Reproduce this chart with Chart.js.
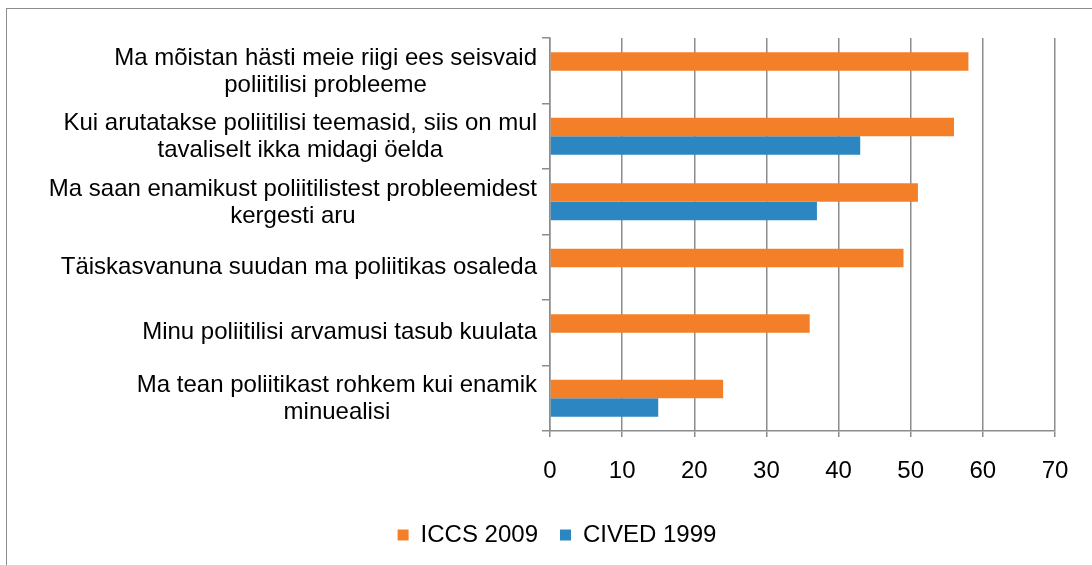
<!DOCTYPE html>
<html>
<head>
<meta charset="utf-8">
<script src="https://cdn.jsdelivr.net/npm/chart.js@4.4.1/dist/chart.umd.min.js"></script>
<style>
  html, body { margin: 0; padding: 0; background: #fff; overflow: hidden; width: 1092px; height: 565px; }
  #frame { position: absolute; left: 6px; top: 8px; width: 1100px; height: 565px; border: 1px solid #8c8c8c; background: #fff; }
  #c { display: block; }
</style>
</head>
<body>
<div id="frame"><canvas id="c" width="1100" height="565"></canvas></div>
<script>
const categories = [
  ["Ma mõistan hästi meie riigi ees seisvaid", "poliitilisi probleeme"],
  ["Kui arutatakse poliitilisi teemasid, siis on mul", "tavaliselt ikka midagi öelda"],
  ["Ma saan enamikust poliitilistest probleemidest", "kergesti aru"],
  ["Täiskasvanuna suudan ma poliitikas osaleda"],
  ["Minu poliitilisi arvamusi tasub kuulata"],
  ["Ma tean poliitikast rohkem kui enamik", "minuealisi"]
];
const iccs2009 = [58, 56, 51, 49, 36, 24];
const cived1999 = [null, 43, 37, null, null, 15];
const seriesNames = ["ICCS 2009", "CIVED 1999"];
const xTicks = [0, 10, 20, 30, 40, 50, 60, 70];

const FONT = "'Liberation Sans', Arial, sans-serif";
const FS = 24;
const GRID = '#8c8c8c';

// Draw wrapped y labels: lines centred on each other, block right-aligned to the axis
const yLabelPlugin = {
  id: 'yLabels',
  afterDraw(chart) {
    const ys = chart.scales.y;
    const ctx = chart.ctx;
    ctx.save();
    ctx.font = FS + 'px ' + FONT;
    ctx.fillStyle = '#000';
    ctx.textAlign = 'center';
    ctx.textBaseline = 'middle';
    const right = chart.chartArea.left - 13;
    const lh = 27;
    categories.forEach((lines, i) => {
      const y = ys.getPixelForTick(i);
      const w = Math.max(...lines.map(l => ctx.measureText(l).width));
      const cx = right - w / 2;
      const n = lines.length;
      const y0 = y - (n - 1) * lh / 2 + (n > 1 ? 1 : 0);
      lines.forEach((l, k) => ctx.fillText(l, cx, y0 + k * lh));
    });
    ctx.restore();
  }
};

new Chart(document.getElementById('c'), {
  type: 'bar',
  data: {
    labels: categories,
    datasets: [
      { label: seriesNames[0], data: iccs2009, backgroundColor: '#F47F29', categoryPercentage: 0.565, barPercentage: 1.0 },
      { label: seriesNames[1], data: cived1999, backgroundColor: '#2B86C1', categoryPercentage: 0.565, barPercentage: 1.0 }
    ]
  },
  options: {
    indexAxis: 'y',
    responsive: false,
    animation: false,
    layout: { padding: { left: 52, top: 29, right: 52, bottom: 17 } },
    scales: {
      x: {
        min: 0, max: 70,
        afterBuildTicks(scale) { scale.ticks = xTicks.map(v => ({ value: v })); },
        grid: { color: GRID, lineWidth: 1.5, tickLength: 6, drawOnChartArea: true },
        border: { color: GRID, width: 1.5 },
        ticks: { font: { size: FS, family: FONT }, color: '#000', padding: 20, maxRotation: 0 },
        afterFit(scale) { scale.height = 70; }
      },
      y: {
        grid: { color: GRID, lineWidth: 1.5, tickLength: 8, drawOnChartArea: false, offset: true },
        border: { color: GRID, width: 1.5 },
        ticks: { display: false },
        afterFit(scale) { scale.width = 491; }
      }
    },
    plugins: {
      legend: {
        position: 'bottom',
        labels: { font: { size: FS, family: FONT }, color: '#000', boxWidth: 11, boxHeight: 11, padding: 22 }
      },
      tooltip: { enabled: false }
    }
  },
  plugins: [yLabelPlugin]
});
</script>
</body>
</html>
